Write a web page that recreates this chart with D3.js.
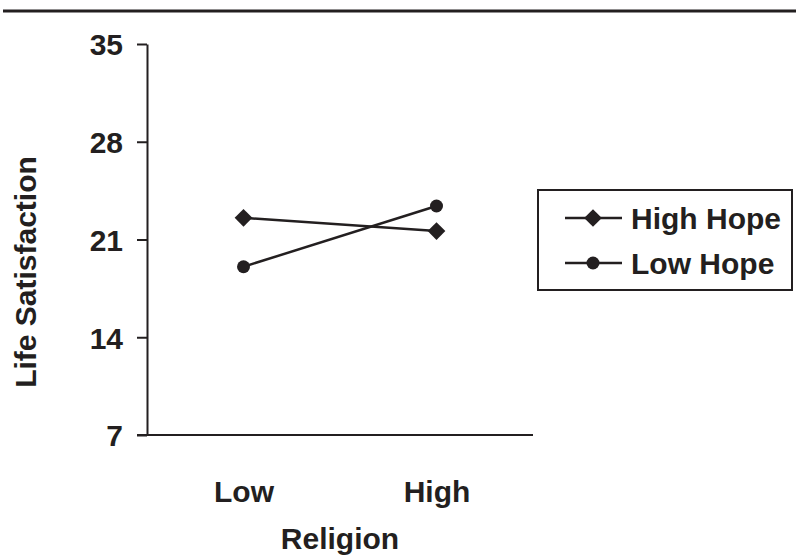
<!DOCTYPE html>
<html>
<head>
<meta charset="utf-8">
<script src="https://cdn.jsdelivr.net/npm/d3@7"></script>
<style>
  body { margin: 0; background: #fff; }
  text { font-family: "Liberation Sans", Arial, sans-serif; font-weight: bold; fill: #231f20; }
</style>
</head>
<body>
<div id="chart"></div>
<script>
// data
const religion = ["Low", "High"];
const highHope = [22.55, 21.6];
const lowHope = [19.05, 23.4];
const yTicks = [7, 14, 21, 28, 35];
const seriesNames = ["High Hope", "Low Hope"];

const svgWidth = 796;
const svgHeight = 558;
const ink = "#231f20";
const fontSize = 30;

const svg = d3.select("#chart")
  .append("svg")
  .attr("width", svgWidth)
  .attr("height", svgHeight);

// top rule
svg.append("line")
  .attr("x1", 3).attr("x2", svgWidth)
  .attr("y1", 11).attr("y2", 11)
  .attr("stroke", ink).attr("stroke-width", 3);

// scales
const x = d3.scalePoint()
  .domain(religion)
  .range([147, 533])
  .padding(0.5);

const y = d3.scaleLinear()
  .domain([7, 35])
  .range([435, 44]);

// y axis
const yAxis = svg.append("g")
  .attr("transform", "translate(147,0)")
  .call(d3.axisLeft(y).tickValues(yTicks).tickSize(10).tickPadding(14).tickSizeOuter(0));
yAxis.select(".domain").attr("stroke", ink).attr("stroke-width", 2);
yAxis.selectAll(".tick line").attr("stroke", ink).attr("stroke-width", 2);
yAxis.selectAll(".tick text")
  .attr("font-size", fontSize)
  .attr("font-family", "Liberation Sans, Arial, sans-serif")
  .attr("font-weight", "bold")
  .attr("fill", ink)
  .attr("dy", "0.36em");

// x axis
const xAxis = svg.append("g")
  .attr("transform", "translate(0,435)")
  .call(d3.axisBottom(x).tickSize(0).tickPadding(46).tickSizeOuter(0));
xAxis.select(".domain").remove();
xAxis.selectAll(".tick text")
  .attr("font-size", fontSize)
  .attr("font-family", "Liberation Sans, Arial, sans-serif")
  .attr("font-weight", "bold")
  .attr("fill", ink);
svg.append("line")
  .attr("x1", 137).attr("x2", 533)
  .attr("y1", 435).attr("y2", 435)
  .attr("stroke", ink).attr("stroke-width", 2);

// axis titles
svg.append("text")
  .attr("transform", "translate(340,549)")
  .attr("text-anchor", "middle")
  .attr("font-size", fontSize)
  .text("Religion");

svg.append("text")
  .attr("transform", "translate(36,272) rotate(-90)")
  .attr("text-anchor", "middle")
  .attr("font-size", fontSize)
  .text("Life Satisfaction");

// lines
const line = d3.line()
  .x((d, i) => x(religion[i]))
  .y(d => y(d));

const diamond = d3.symbol().type(d3.symbolDiamond2).size(200);

function drawSeries(values, marker) {
  svg.append("path")
    .datum(values)
    .attr("d", line)
    .attr("fill", "none")
    .attr("stroke", ink)
    .attr("stroke-width", 2.5);
  values.forEach(function (v, i) {
    if (marker === "diamond") {
      svg.append("path")
        .attr("d", diamond)
        .attr("transform", `translate(${x(religion[i])},${y(v)})`)
        .attr("fill", ink);
    } else {
      svg.append("circle")
        .attr("cx", x(religion[i]))
        .attr("cy", y(v))
        .attr("r", 6.5)
        .attr("fill", ink);
    }
  });
}
drawSeries(highHope, "diamond");
drawSeries(lowHope, "circle");

// legend
const legend = svg.append("g");
legend.append("rect")
  .attr("x", 538).attr("y", 190)
  .attr("width", 254).attr("height", 100)
  .attr("fill", "none")
  .attr("stroke", ink)
  .attr("stroke-width", 2);

seriesNames.forEach(function (name, i) {
  const ly = 218 + i * 45;
  legend.append("line")
    .attr("x1", 565).attr("x2", 622)
    .attr("y1", ly).attr("y2", ly)
    .attr("stroke", ink).attr("stroke-width", 2.5);
  if (i === 0) {
    legend.append("path")
      .attr("d", diamond)
      .attr("transform", `translate(593,${ly})`)
      .attr("fill", ink);
  } else {
    legend.append("circle")
      .attr("cx", 593).attr("cy", ly).attr("r", 6.5)
      .attr("fill", ink);
  }
  legend.append("text")
    .attr("x", 631).attr("y", ly)
    .attr("dy", "0.36em")
    .attr("font-size", fontSize)
    .text(name);
});
</script>
</body>
</html>
